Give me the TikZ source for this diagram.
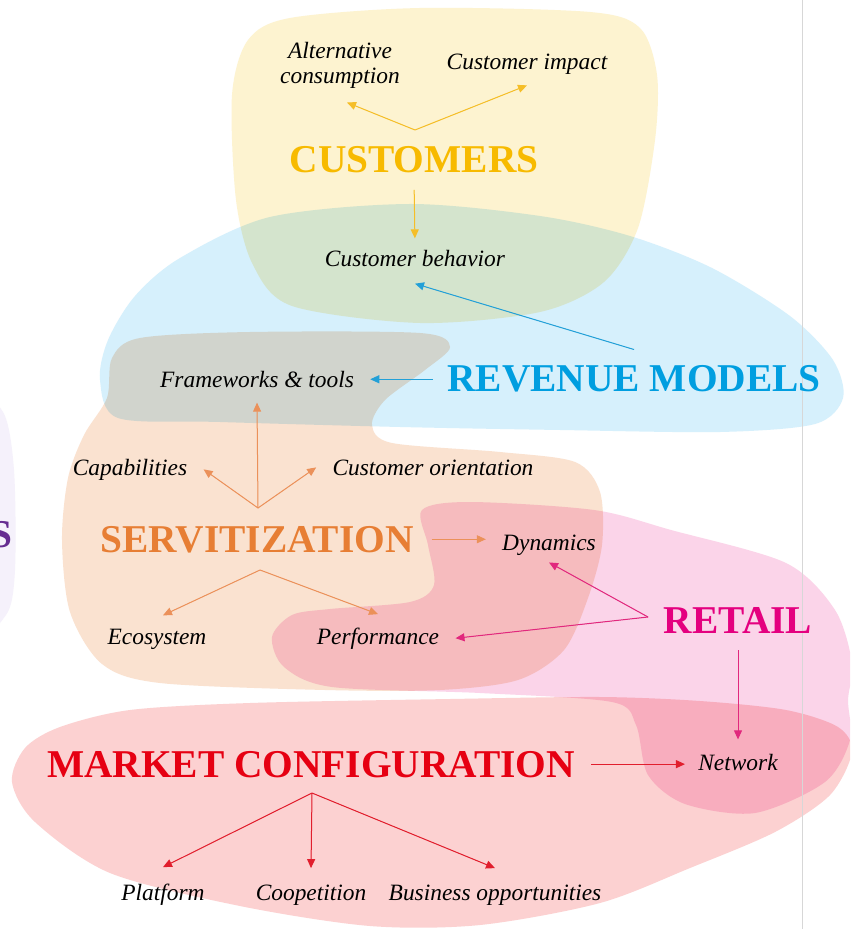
\documentclass[tikz,border=0pt]{standalone}
\usepackage{fontspec}
\setmainfont{Liberation Serif}
\usetikzlibrary{arrows.meta}

\definecolor{yellowblob}{RGB}{253,243,208}
\definecolor{blueblob}{RGB}{214,240,252}
\definecolor{orangeblob}{RGB}{250,226,208}
\definecolor{retailblob}{RGB}{251,212,233}
\definecolor{marketblob}{RGB}{252,209,209}
\definecolor{lavblob}{RGB}{245,241,251}
\definecolor{custtxt}{RGB}{247,186,0}
\definecolor{revtxt}{RGB}{0,158,224}
\definecolor{servtxt}{RGB}{231,126,52}
\definecolor{retailtxt}{RGB}{228,0,127}
\definecolor{markettxt}{RGB}{230,0,18}
\definecolor{purpletxt}{RGB}{102,45,145}
\definecolor{custarrow}{RGB}{245,190,40}
\definecolor{revarrow}{RGB}{35,160,215}
\definecolor{servarrow}{RGB}{235,145,90}
\definecolor{retailarrow}{RGB}{225,40,125}
\definecolor{marketarrow}{RGB}{225,30,45}
\definecolor{pagerule}{RGB}{215,215,215}

\tikzstyle{topic} = [font=\fontsize{11.7}{12.5}\selectfont\itshape, anchor=base, inner sep=2pt, text=black]
\tikzstyle{theme} = [font=\fontsize{19.7}{22}\selectfont\bfseries, anchor=base, inner sep=2pt]
\tikzstyle{arrow} = [line width=0.5pt,->,>={Triangle[length=4.5pt,width=4pt]}]
\tikzstyle{arrowY} = [arrow, draw=custarrow, fill=custarrow]
\tikzstyle{arrowB} = [arrow, draw=revarrow, fill=revarrow]
\tikzstyle{arrowO} = [arrow, draw=servarrow, fill=servarrow]
\tikzstyle{arrowM} = [arrow, draw=retailarrow, fill=retailarrow]
\tikzstyle{arrowR} = [arrow, draw=marketarrow, fill=marketarrow]

\begin{document}
\begin{tikzpicture}[x=0.5pt,y=-0.5pt]
\useasboundingbox (0,0) rectangle (850,929);
\clip (0,0) rectangle (850,929);
\fill [white] (0,0) rectangle (850,929);

%%% blobs %%%%%%%%%%%%%%%%%%%%%%%%%
\begin{scope}[blend mode=multiply]
\fill [lavblob] plot [smooth cycle] coordinates {(-30,400) (3,412) (14,470) (15,570) (6,615) (-30,630)};
\fill [yellowblob] plot [smooth cycle] coordinates {(232,95) (248,40) (290,18) (420,8) (590,12) (640,28) (657,75) (655,140) (638,228) (604,282) (540,312) (420,323) (292,306) (253,265) (236,200)};
\fill [blueblob] plot [smooth cycle] coordinates {(100,380) (108,340) (135,296) (180,258) (270,217) (410,204) (540,216) (630,236) (712,268) (790,316) (833,360) (843,398) (815,424) (720,432) (560,430) (400,427) (220,422) (118,418)};
\fill [orangeblob] plot [smooth cycle] coordinates {(107,398) (112,358) (140,338) (250,332) (420,333) (450,347) (425,370) (385,400) (372,425) (392,443) (500,452) (575,462) (600,492) (602,545) (588,598) (564,650) (518,680) (440,690) (325,690) (160,683) (102,664) (70,612) (62,540) (68,478) (84,435)};
\fill [retailblob] plot [smooth cycle] coordinates {(428,545) (422,510) (470,502) (594,510) (671,530) (786,563) (835,610) (852,663) (848,700) (850,740) (825,782) (755,813) (685,804) (648,775) (636,725) (612,702) (480,693) (332,687) (284,667) (272,637) (292,615) (330,609) (410,602) (434,585)};
\fill [marketblob] plot [smooth cycle] coordinates {(25,748) (60,727) (130,710) (250,703) (450,699) (600,697) (700,701) (786,710) (838,727) (852,752) (830,795) (775,832) (690,868) (600,903) (480,925) (370,926) (240,906) (110,873) (35,822) (12,782)};
\end{scope}
\draw [line width=0.5pt, pagerule] (802,0) -- (802,929);

%%% nodes %%%%%%%%%%%%%%%%%%%%%%%%%
\node (altcons) [topic, anchor=center, align=center] at (340,65) {Alternative\\consumption};
\node (custimp) [topic] at (527,70) {Customer impact};
\node (customers) [theme, text=custtxt] at (414,173) {CUSTOMERS};
\node (custbeh) [topic] at (415,267) {Customer behavior};
\node (revenue) [theme, text=revtxt] at (634,392) {REVENUE MODELS};
\node (frameworks) [topic] at (257,388) {Frameworks \& tools};
\node (capab) [topic] at (130,475) {Capabilities};
\node (custorient) [topic] at (433,475) {Customer orientation};
\node (servit) [theme, text=servtxt] at (257,552) {SERVITIZATION};
\node (dynamics) [topic] at (549,550) {Dynamics};
\node (ecosys) [topic] at (157,644) {Ecosystem};
\node (perf) [topic] at (378,644) {Performance};
\node (retail) [theme, text=retailtxt] at (738,633) {RETAIL};
\node (network) [topic] at (738,770) {Network};
\node (market) [theme, text=markettxt] at (311,777) {MARKET CONFIGURATION};
\node (platform) [topic] at (163,900) {Platform};
\node (coop) [topic] at (311,900) {Coopetition};
\node (business) [topic] at (495,900) {Business opportunities};
\node (purples) [theme, text=purpletxt, anchor=base east] at (17,547) {S};

\coordinate (cusj) at (415,130);
\coordinate (servtop) at (258,508);
\coordinate (servbot) at (260,570);
\coordinate (retailj) at (648,617);
\coordinate (marketj) at (312,793);

%%% drawing %%%%%%%%%%%%%%%%%%%%%%%
\draw [arrowY] (cusj) -- ([shift={(3.5pt,-5pt)}]altcons.south);
\draw [arrowY] (cusj) -- ([yshift=-3pt]custimp.south);
\draw [arrowY, shorten <=6pt, shorten >=4pt] (customers.south) -- (custbeh.north);
\draw [arrowB] ([yshift=6pt]revenue.north) -- ([yshift=-6pt]custbeh.south);
\draw [arrowB, shorten <=5pt, shorten >=6pt] (revenue.west) -- (revenue.west -| frameworks.east);
\draw [arrowO] (servtop) -- ([yshift=-5pt]frameworks.south);
\draw [arrowO] (servtop) -- ([xshift=6pt]capab.east);
\draw [arrowO] (servtop) -- ([xshift=-6pt]custorient.west);
\draw [arrowO, shorten <=7pt, shorten >=6pt] (servit.east) -- (servit.east -| dynamics.west);
\draw [arrowO] (servbot) -- ([shift={(3pt,4.5pt)}]ecosys.north);
\draw [arrowO] (servbot) -- ([yshift=4.5pt]perf.north);
\draw [arrowM] (retailj) -- ([yshift=-1.5pt]dynamics.south);
\draw [arrowM] (retailj) -- ([xshift=6pt]perf.east);
\draw [arrowM, shorten <=6.5pt, shorten >=5pt] (retail.south) -- (network.north);
\draw [arrowR, shorten <=6pt, shorten >=4.5pt] (market.east) -- (market.east -| network.west);
\draw [arrowR] (marketj) -- ([yshift=6pt]platform.north);
\draw [arrowR] (marketj) -- ([yshift=6pt]coop.north);
\draw [arrowR] (marketj) -- ([yshift=6pt]business.north);
\end{tikzpicture}
\end{document}
